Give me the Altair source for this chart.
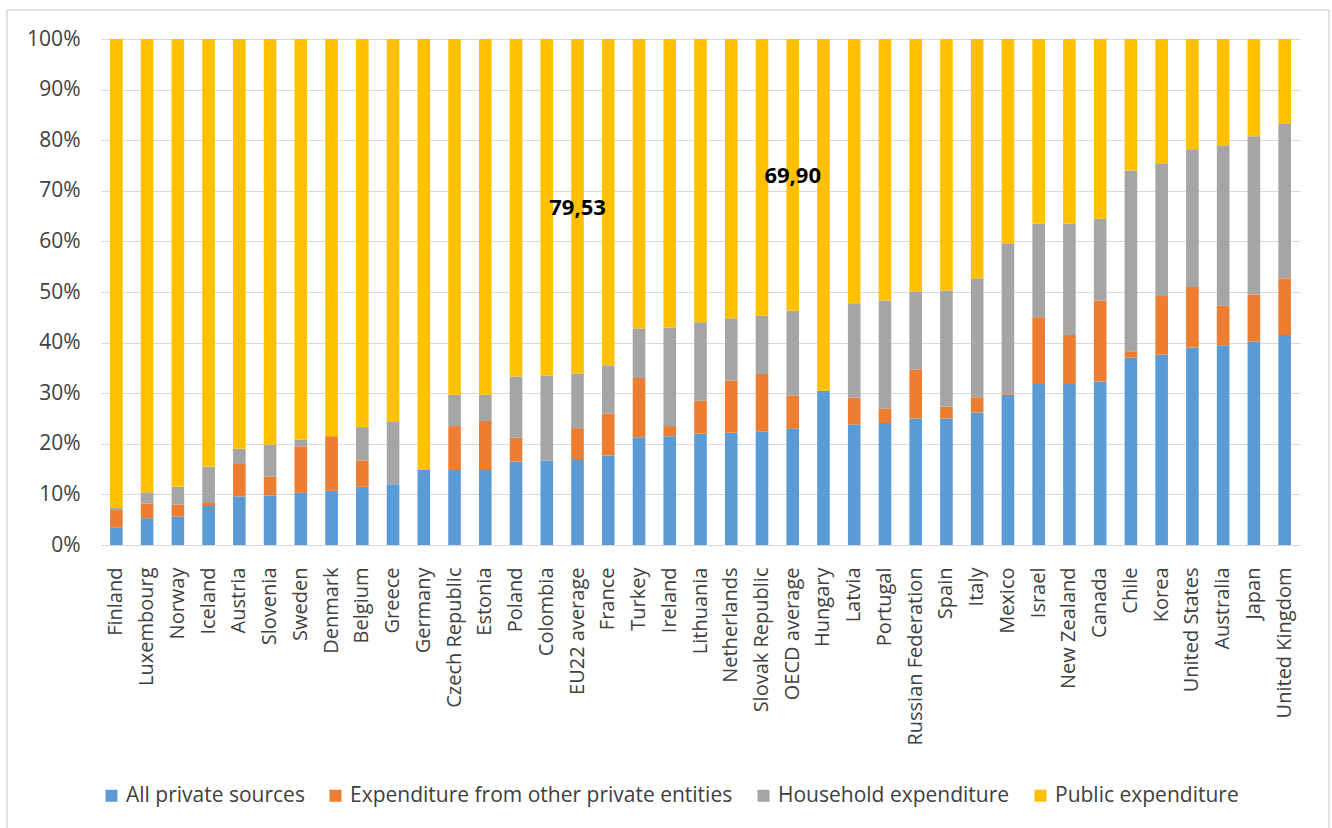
import altair as alt
import pandas as pd

countries = ["Finland", "Luxembourg", "Norway", "Iceland", "Austria", "Slovenia", "Sweden",
             "Denmark", "Belgium", "Greece", "Germany", "Czech Republic", "Estonia", "Poland",
             "Colombia", "EU22 average", "France", "Turkey", "Ireland", "Lithuania", "Netherlands",
             "Slovak Republic", "OECD average", "Hungary", "Latvia", "Portugal", "Russian Federation",
             "Spain", "Italy", "Mexico", "Israel", "New Zealand", "Canada", "Chile", "Korea",
             "United States", "Australia", "Japan", "United Kingdom"]

all_private = [3.5, 5.3, 5.6, 7.7, 9.6, 9.8, 10.3, 10.7, 11.5, 12.0, 14.8, 14.8, 14.8, 16.5,
               16.7, 17.0, 17.7, 21.3, 21.5, 22.0, 22.2, 22.5, 23.0, 30.5, 23.8, 24.1, 25.0,
               25.0, 26.2, 29.7, 31.8, 31.8, 32.3, 37.0, 37.6, 39.0, 39.5, 40.2, 41.5]
other_private = [3.4, 2.9, 2.4, 0.6, 6.4, 3.7, 9.2, 10.8, 5.2, 0.0, 0.0, 8.7, 9.7, 4.7,
                 0.0, 6.1, 8.3, 11.7, 2.0, 6.5, 10.3, 11.3, 6.5, 0.0, 5.3, 2.9, 9.7,
                 2.3, 3.0, 0.3, 13.2, 9.7, 16.0, 1.3, 11.6, 12.0, 7.8, 9.3, 11.2]
household = [0.4, 2.2, 3.5, 7.2, 3.0, 6.3, 1.3, 0.0, 6.6, 12.3, 0.0, 6.2, 5.2, 12.1,
             16.8, 10.8, 9.5, 9.8, 19.5, 15.5, 12.3, 11.5, 16.8, 0.0, 18.7, 21.3, 15.3,
             23.0, 23.5, 29.5, 18.5, 22.0, 16.2, 35.7, 26.1, 27.2, 31.7, 31.3, 30.5]
public = [92.7, 89.6, 88.5, 84.5, 81.0, 80.2, 79.2, 78.5, 76.7, 75.7, 85.2, 70.3, 70.3, 66.7,
          66.5, 66.1, 64.5, 57.2, 57.0, 56.0, 55.2, 54.7, 53.7, 69.5, 52.2, 51.7, 50.0,
          49.7, 47.3, 40.5, 36.5, 36.5, 35.5, 26.0, 24.7, 21.8, 21.0, 19.2, 16.8]

series_names = ["All private sources", "Expenditure from other private entities",
                "Household expenditure", "Public expenditure"]
series_colors = ["#5B9BD5", "#ED7D31", "#A5A5A5", "#FFC000"]

note_country = ["EU22 average", "OECD average"]
note_text = ["79,53", "69,90"]
note_y = [66.6, 72.9]

y_ticks = [0, 10, 20, 30, 40, 50, 60, 70, 80, 90, 100]

rows = []
for i, c in enumerate(countries):
    for k, vals in enumerate([all_private, other_private, household, public]):
        rows.append({"country": c, "series": series_names[k], "value": vals[i], "order": k})
df = pd.DataFrame(rows)
notes = pd.DataFrame({"country": note_country, "text": note_text, "y": note_y})

FONT = "Open Sans"
TXT = "#404040"

x_enc = alt.X("country:N", sort=countries,
              scale=alt.Scale(paddingInner=0.59, paddingOuter=0.295),
              axis=alt.Axis(title=None, labelAngle=-90, labelFontSize=20, labelFont=FONT,
                            labelColor=TXT, labelPadding=22, ticks=False, domain=True,
                            domainColor="#d9d9d9", labelLimit=400))

bars = alt.Chart(df).mark_bar().encode(
    x=x_enc,
    y=alt.Y("value:Q", stack="zero", scale=alt.Scale(domain=[0, 100], nice=False),
            axis=alt.Axis(title=None, values=y_ticks, labelExpr="datum.value + '%'",
                          labelFontSize=21, labelFont=FONT, labelColor=TXT, labelPadding=21,
                          ticks=False, domain=False, gridColor="#d9d9d9", gridWidth=1)),
    color=alt.Color("series:N", sort=series_names,
                    scale=alt.Scale(domain=series_names, range=series_colors),
                    legend=alt.Legend(title=None, orient="none", direction="horizontal",
                                      legendX=0, legendY=746, symbolType="square",
                                      symbolSize=144, symbolStrokeWidth=0,
                                      labelFontSize=21, labelFont=FONT, labelColor=TXT,
                                      labelOffset=4, columnPadding=20, labelLimit=600)),
    order=alt.Order("order:Q", sort="ascending"),
)

labels = alt.Chart(notes).mark_text(font=FONT, fontSize=22, fontWeight="bold",
                                    color="#000000").encode(
    x=alt.X("country:N", sort=countries),
    y=alt.Y("y:Q"),
    text="text:N",
)

frame = alt.Chart(alt.Data(values=[{}])).mark_rect(
    fill=None, stroke="#d9d9d9", strokeWidth=1.5).encode(
    x=alt.value(-94), x2=alt.value(1228), y=alt.value(-29), y2=alt.value(800))

chart = alt.layer(frame, bars, labels).properties(
    width=1199, height=506,
    autosize=alt.AutoSizeParams(type="none"),
    padding={"left": 101, "top": 39, "right": 32, "bottom": 283},
    background="white",
).configure_view(stroke=None)

chart.save("out.html", embed_options={"renderer": "svg", "actions": False})
